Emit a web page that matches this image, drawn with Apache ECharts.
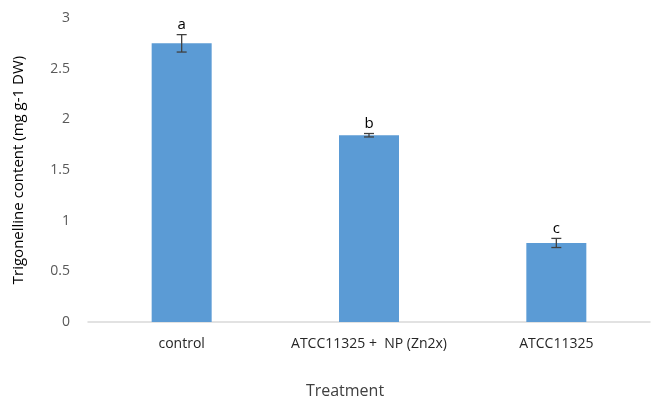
<!DOCTYPE html>
<html>
<head>
<meta charset="utf-8">
<script src="https://cdn.jsdelivr.net/npm/echarts@6/dist/echarts.min.js"></script>
<style>
  html, body { margin: 0; padding: 0; background: #fff; }
  #chart { width: 653px; height: 401px; }
</style>
</head>
<body>
<div id="chart"></div>
<script>
// Trigonelline content per treatment (mean ± error, significance letters)
const categories = ['control', 'ATCC11325 +  NP (Zn2x)', 'ATCC11325'];
const means = [2.75, 1.843, 0.78];
const errors = [0.086, 0.017, 0.045];
const letters = ['a', 'b', 'c'];
const yTicks = { min: 0, max: 3, interval: 0.5 };

const FONT = '"Open Sans", "Liberation Sans", sans-serif';

const chart = echarts.init(document.getElementById('chart'));

const errData = categories.map((c, i) => [i, means[i], errors[i], letters[i]]);

chart.setOption({
  animation: false,
  grid: { left: 88, right: 3, top: 18, bottom: 79, containLabel: false, outerBoundsMode: 'none' },
  xAxis: {
    type: 'category',
    data: categories,
    name: 'Treatment',
    nameLocation: 'middle',
    nameGap: 61,
    nameTextStyle: { fontFamily: FONT, fontSize: 16, color: '#404040', padding: [0, 48, 0, 0] },
    axisLine: { lineStyle: { color: '#d9d9d9', width: 1.5 } },
    axisTick: { show: false },
    axisLabel: { fontFamily: FONT, fontSize: 14, color: '#262626', margin: 15, interval: 0, hideOverlap: false }
  },
  yAxis: {
    type: 'value',
    min: yTicks.min,
    max: yTicks.max,
    interval: yTicks.interval,
    name: 'Trigonelline content (mg g-1 DW)',
    nameLocation: 'middle',
    nameGap: 62,
    nameRotate: 90,
    nameTextStyle: { fontFamily: FONT, fontSize: 15, color: '#000' },
    axisLine: { show: false },
    axisTick: { show: false },
    splitLine: { show: false },
    axisLabel: { fontFamily: FONT, fontSize: 14, color: '#595959', margin: 18 }
  },
  series: [
    {
      type: 'bar',
      data: means,
      barWidth: 60,
      itemStyle: { color: '#5b9bd5' },
      z: 1
    },
    {
      type: 'custom',
      data: errData,
      z: 5,
      renderItem: function (params, api) {
        const x = api.value(0);
        const m = api.value(1);
        const e = api.value(2);
        const top = api.coord([x, m + e]);
        const bot = api.coord([x, m - e]);
        const hw = 5;
        const stroke = { stroke: '#404040', lineWidth: 1.3 };
        return {
          type: 'group',
          children: [
            { type: 'line', shape: { x1: top[0], y1: top[1], x2: bot[0], y2: bot[1] }, style: stroke },
            { type: 'line', shape: { x1: top[0] - hw, y1: top[1], x2: top[0] + hw, y2: top[1] }, style: stroke },
            { type: 'line', shape: { x1: bot[0] - hw, y1: bot[1], x2: bot[0] + hw, y2: bot[1] }, style: stroke },
            {
              type: 'text',
              style: {
                x: top[0], y: top[1] - 2,
                text: api.value(3),
                fill: '#000',
                font: '15px ' + FONT,
                align: 'center',
                verticalAlign: 'bottom'
              }
            }
          ]
        };
      }
    }
  ]
});
</script>
</body>
</html>
